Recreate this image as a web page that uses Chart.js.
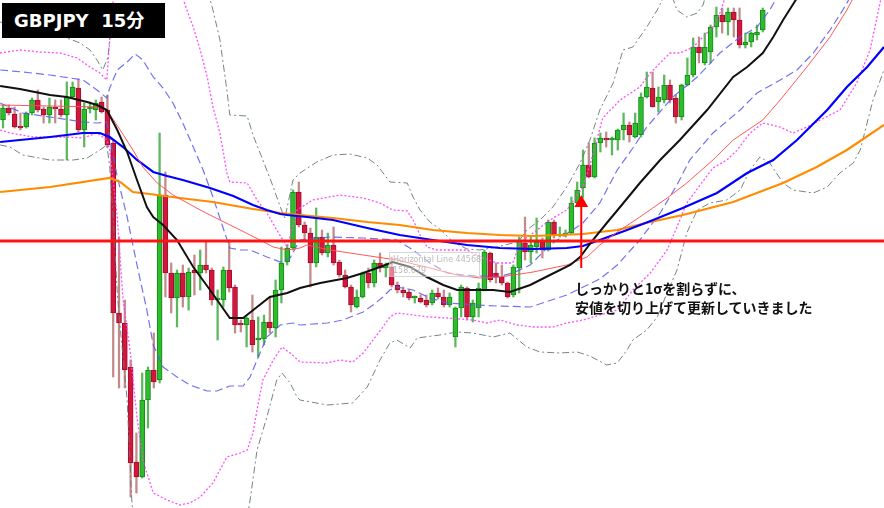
<!DOCTYPE html>
<html>
<head>
<meta charset="utf-8">
<script src="https://cdn.jsdelivr.net/npm/chart.js@4.4.1/dist/chart.umd.min.js"></script>
<style>
  html, body { margin: 0; padding: 0; background: #ffffff; }
  #wrap { position: relative; width: 884px; height: 508px; overflow: hidden; }
  canvas { position: absolute; left: 0; top: 0; }
  #title { position: absolute; left: 2px; top: 3px; width: 163px; height: 35px; background: #000; color: #fff;
           font: bold 18px "DejaVu Sans", "Noto Sans CJK JP", sans-serif; line-height: 35px; padding-left: 12px;
           box-sizing: border-box; white-space: pre; }
  #note { position: absolute; left: 575px; top: 279px; color: #111;
          font: bold 14px "Noto Sans CJK JP", sans-serif; line-height: 19px; white-space: pre; }
  #ghost { position: absolute; left: 389px; top: 252px; width: 91px; height: 25px; box-sizing: border-box;
           border: 1px solid rgba(190,190,190,0.6); background: rgba(255,255,255,0.45); white-space: nowrap;
           color: rgba(175,175,175,0.85); font: 8px "DejaVu Sans", sans-serif; line-height: 11px; padding: 1px 3px; }
</style>
</head>
<body>
<div id="wrap">
  <canvas id="c" width="884" height="508"></canvas>
  <div id="ghost">Horizontal Line 44568<br>158.679</div>
  <div id="title">GBPJPY  15分</div>
  <div id="note">しっかりと1σを割らずに、
安値を切り上げて更新していきました</div>
</div>
<script>
// ===== Data (GBPJPY 15-minute candles) =====
const openP = [159.89,160.01,159.95,159.83,159.82,159.96,160.09,160.00,159.94,160.02,
160.00,159.94,160.12,160.21,159.79,160.00,159.99,160.07,159.99,159.66,
157.96,157.86,157.42,156.47,156.32,157.09,157.39,157.29,159.14,158.36,
158.11,158.36,158.12,158.39,158.36,158.44,158.39,158.09,158.09,158.39,
158.22,157.86,157.84,157.89,157.69,157.70,157.87,157.81,158.19,158.47,
158.61,159.17,158.84,158.76,158.46,158.72,158.56,158.64,158.47,158.34,
158.22,158.02,158.12,158.36,158.26,158.46,158.41,158.42,158.24,158.19,
158.17,158.11,158.11,158.09,158.06,158.16,158.12,158.04,157.72,158.01,
158.21,157.92,158.01,158.19,158.56,158.36,158.32,158.26,158.14,158.41,
158.66,158.57,158.62,158.67,158.59,158.87,158.73,158.74,158.76,159.06,
159.21,159.44,159.32,159.66,159.71,159.69,159.69,159.79,159.84,159.72,
159.74,160.12,160.21,160.07,160.09,160.24,160.11,159.92,160.24,160.34,
160.62,160.46,160.57,160.82,160.94,160.87,160.97,160.89,160.64,160.67,
160.74,160.79];
const highP = [160.04,160.04,160.02,159.96,159.97,160.11,160.19,160.02,160.11,160.09,
160.09,160.27,160.27,160.30,160.06,160.07,160.09,160.12,160.14,159.69,
158.72,158.09,157.49,156.76,157.36,157.42,157.76,159.76,159.37,158.46,
158.39,158.44,158.41,158.54,158.59,158.67,158.41,158.19,158.42,158.69,
158.24,157.89,157.92,158.14,157.92,157.94,158.12,158.29,158.62,158.64,
159.19,159.27,158.87,158.81,159.01,158.79,158.76,158.82,158.49,158.39,
158.24,158.19,158.37,158.41,158.49,158.56,158.46,158.52,158.27,158.22,
158.19,158.13,158.14,158.14,158.19,158.21,158.19,158.16,158.02,158.24,
158.22,158.09,158.26,158.59,158.57,158.46,158.44,158.27,158.44,158.72,
158.92,158.72,158.91,158.71,158.89,158.89,158.82,158.79,159.12,159.27,
159.59,159.66,159.71,159.76,159.77,159.72,159.80,159.96,159.87,159.96,
160.16,160.37,160.37,160.22,160.34,160.29,160.14,160.25,160.51,160.71,
160.72,160.76,160.84,161.02,161.01,161.01,161.01,161.01,160.76,160.77,
160.84,161.01];
const lowP = [159.81,159.94,159.81,159.79,159.81,159.94,159.97,159.86,159.86,159.86,
159.92,159.49,160.11,159.77,159.62,159.96,159.89,159.96,159.62,157.32,
157.21,157.21,156.12,156.16,156.31,156.81,157.21,157.26,158.12,157.96,
157.82,158.02,157.99,158.14,158.19,158.36,158.04,157.69,158.02,158.17,
157.76,157.77,157.62,157.57,157.52,157.64,157.76,157.72,158.06,158.44,
158.59,158.82,158.69,158.22,158.42,158.54,158.52,158.44,158.32,158.21,
157.97,158.01,158.11,158.21,158.22,158.37,158.32,158.22,158.16,158.12,
158.09,158.06,158.06,158.02,158.04,158.10,158.02,158.02,157.62,157.92,
157.89,157.87,157.92,158.18,158.27,158.26,158.24,158.11,158.12,158.16,
158.49,158.46,158.56,158.51,158.58,158.71,158.72,158.72,158.75,159.05,
159.11,159.31,159.31,159.57,159.62,159.54,159.59,159.69,159.67,159.71,
159.72,160.11,160.02,159.97,160.06,160.06,159.86,159.89,160.23,160.32,
160.46,160.44,160.46,160.72,160.76,160.74,160.72,160.61,160.61,160.62,
160.69,160.77];
const closeP = [160.01,159.96,159.82,159.81,159.96,160.09,159.99,159.94,160.02,160.00,
159.94,160.12,160.22,159.79,160.00,160.02,160.06,159.97,159.64,157.96,
157.86,157.39,156.46,156.32,157.09,157.39,157.27,159.14,158.36,158.11,
158.36,158.12,158.37,158.36,158.44,158.39,158.09,158.11,158.39,158.21,
157.84,157.84,157.91,157.64,157.71,157.87,157.81,158.19,158.46,158.61,
159.17,158.84,158.76,158.46,158.72,158.56,158.64,158.46,158.34,158.22,
158.04,158.12,158.36,158.26,158.46,158.41,158.44,158.24,158.19,158.16,
158.11,158.12,158.07,158.04,158.16,158.12,158.04,158.12,158.01,158.22,
157.92,158.06,158.21,158.57,158.29,158.32,158.26,158.12,158.42,158.69,
158.57,158.64,158.67,158.59,158.87,158.74,158.75,158.76,159.06,159.19,
159.44,159.32,159.66,159.71,159.69,159.70,159.79,159.84,159.74,159.86,
160.12,160.22,160.02,160.12,160.24,160.09,159.92,160.24,160.34,160.62,
160.56,160.62,160.82,160.94,160.87,160.97,160.89,160.64,160.67,160.76,
160.77,160.99];

// Indicator lines: [bar index, price]
const midLine = [[-0.5,160.23],[2.9,160.20],[8.1,160.14],[11.0,160.12],[14.5,160.07],[16.2,160.04],[17.9,159.99],
[19.7,159.79],[21.4,159.57],[23.1,159.29],[24.8,159.02],[25.9,158.92],[27.6,158.84],[30.0,158.69],[32.8,158.42],
[35.7,158.19],[39.1,157.91],[41.4,157.91],[43.8,158.02],[46.0,158.12],[49.0,158.16],[51.2,158.21],[54.7,158.26],
[59.3,158.31],[62.1,158.36],[65.0,158.42],[67.2,158.47],[70.2,158.42],[73.1,158.32],[75.9,158.24],[78.3,158.19],
[81.0,158.19],[84.5,158.19],[87.4,158.17],[90.9,158.24],[94.3,158.34],[97.8,158.44],[99.5,158.52],[101.7,158.69],
[104.1,158.86],[106.4,159.02],[109.8,159.26],[113.3,159.49],[116.7,159.69],[121.4,159.99],[125.9,160.32],
[128.3,160.42],[131.0,160.56],[132.8,160.72],[134.5,160.89],[136.9,161.11]];
const emaLine = [[-0.5,160.04],[8.1,160.03],[16.7,160.02],[17.9,159.99],[20.2,159.79],[22.4,159.59],[24.1,159.42],
[26.6,159.26],[29.3,159.14],[34.0,158.99],[37.4,158.89],[40.9,158.79],[44.3,158.69],[46.6,158.62],[49.0,158.59],
[51.2,158.61],[52.4,158.64],[56.4,158.59],[62.1,158.54],[67.9,158.49],[73.6,158.41],[78.3,158.34],[82.2,158.31],
[85.7,158.32],[91.4,158.37],[97.2,158.44],[100.7,158.52],[102.9,158.64],[105.9,158.77],[109.8,158.92],
[114.5,159.11],[117.9,159.26],[122.4,159.49],[125.9,159.69],[131.0,159.89],[134.0,160.09],[138.6,160.42],
[142.6,160.72],[145.5,160.99],[146.6,161.11]];
const ma75Line = [[-0.5,159.67],[2.9,159.69],[8.1,159.72],[13.8,159.76],[16.7,159.76],[18.4,159.72],[20.7,159.62],
[23.1,159.49],[25.9,159.37],[28.3,159.33],[31.0,159.29],[35.7,159.21],[39.7,159.13],[43.1,159.04],[45.5,158.99],
[47.8,158.95],[49.0,158.94],[52.4,158.92],[56.9,158.89],[62.8,158.81],[68.4,158.74],[74.1,158.69],[80.0,158.64],
[85.7,158.61],[91.4,158.60],[97.2,158.61],[100.0,158.63],[102.9,158.69],[107.6,158.79],[112.1,158.89],
[117.2,159.01],[123.1,159.16],[128.3,159.36],[132.8,159.49],[136.9,159.69],[142.1,159.99],[145.5,160.22],
[149.0,160.42],[151.9,160.62]];
const ma200Line = [[-0.5,159.17],[8.1,159.22],[18.4,159.31],[20.2,159.27],[22.4,159.17],[25.3,159.15],[30.5,159.11],
[36.2,159.07],[43.1,159.00],[47.8,158.96],[51.2,158.94],[56.9,158.91],[62.8,158.87],[68.4,158.84],[74.1,158.79],
[80.0,158.76],[85.7,158.74],[91.4,158.73],[100.0,158.75],[105.9,158.79],[111.6,158.87],[117.2,158.94],
[125.9,159.07],[134.5,159.26],[140.3,159.42],[145.5,159.59],[151.9,159.84]];
const up1Line = [[-0.5,160.39],[3.4,160.37],[8.1,160.34],[13.8,160.29],[16.2,160.19],[17.9,160.11],[18.4,160.21],
[19.7,160.39],[21.4,160.47],[22.8,160.55],[24.1,160.49],[25.9,160.32],[27.6,160.21],[29.3,160.06],[31.0,159.86],
[32.8,159.62],[34.5,159.39],[36.2,159.12],[37.9,158.82],[39.1,158.61],[40.9,158.59],[42.6,158.59],[45.5,158.52],
[47.8,158.47],[49.5,158.51],[51.2,158.69],[56.4,158.72],[62.1,158.71],[67.9,158.69],[70.7,158.59],[73.6,158.46],
[76.6,158.36],[79.3,158.34],[85.2,158.32],[87.9,158.36],[90.9,158.44],[94.3,158.64],[100.0,158.86],[102.9,159.06],
[105.9,159.39],[108.6,159.61],[111.0,159.82],[115.5,160.12],[119.7,160.32],[123.6,160.56],[127.1,160.72],
[130.0,160.82],[132.2,160.99],[133.4,161.11]];
const dn1Line = [[-0.5,160.06],[3.4,159.96],[8.1,159.92],[13.8,159.87],[16.2,159.86],[17.9,159.87],[19.7,159.32],
[21.4,158.92],[23.1,158.44],[24.8,157.99],[25.9,157.64],[27.6,157.42],[30.0,157.32],[32.2,157.24],[35.2,157.18],
[36.9,157.18],[39.1,157.23],[41.4,157.23],[42.6,157.32],[43.8,157.49],[45.5,157.72],[47.8,157.84],[50.0,157.86],
[51.2,157.84],[55.9,157.86],[58.6,157.89],[62.1,157.97],[63.8,158.04],[65.5,158.12],[66.7,158.19],[67.9,158.22],
[70.7,158.19],[73.6,158.11],[76.6,158.06],[81.7,158.04],[85.2,158.03],[90.9,158.02],[97.2,158.14],[102.9,158.30],
[105.9,158.44],[109.8,158.69],[113.3,158.96],[116.2,159.24],[118.4,159.49],[122.4,159.76],[127.1,159.99],
[130.0,160.16],[134.0,160.29],[136.9,160.39],[139.7,160.56],[142.6,160.79],[144.8,160.99],[146.0,161.11]];
const up2Line = [[-0.5,160.56],[2.9,160.59],[6.4,160.57],[9.8,160.56],[12.8,160.51],[15.0,160.42],[16.7,160.36],
[17.9,160.29],[18.4,160.69],[19.0,161.09],[21.9,161.69],[25.3,161.99],[28.8,161.49],[31.7,160.99],[32.8,160.82],
[34.0,160.59],[35.2,160.32],[36.2,160.02],[37.4,159.76],[38.6,159.36],[39.1,159.27],[42.1,159.26],[43.8,159.09],
[45.5,158.96],[47.2,158.79],[49.0,158.62],[50.7,158.99],[53.4,159.09],[58.1,159.14],[62.1,159.11],[65.0,159.06],
[67.2,158.99],[69.7,158.98],[70.7,158.89],[71.9,158.74],[73.1,158.62],[74.8,158.59],[80.0,158.59],[82.2,158.52],
[85.2,158.46],[87.9,158.46],[89.1,158.66],[91.4,158.76],[94.3,158.89],[97.2,158.99],[100.0,159.22],[101.7,159.54],
[103.4,159.91],[106.4,160.09],[109.8,160.22],[111.6,160.36],[113.3,160.46],[115.0,160.56],[116.7,160.56],
[119.0,160.62],[120.7,160.72],[122.4,160.82],[123.6,160.96],[124.5,161.11]];
const dn2Line = [[-0.5,159.79],[1.2,159.76],[5.2,159.72],[11.0,159.72],[13.8,159.71],[16.2,159.76],[17.9,159.69],
[18.4,159.59],[19.7,158.92],[20.7,158.09],[21.9,157.59],[23.1,156.92],[24.1,156.49],[25.9,156.16],[28.3,156.09],
[30.5,156.04],[32.2,156.06],[34.0,156.12],[36.2,156.26],[38.6,156.52],[40.9,156.56],[42.1,156.59],[43.1,156.76],
[43.8,156.99],[44.8,157.29],[46.6,157.49],[48.1,157.62],[49.5,157.56],[51.2,157.47],[55.9,157.46],[58.1,157.49],
[60.3,157.47],[62.1,157.56],[63.8,157.69],[65.5,157.82],[66.7,157.92],[67.9,157.96],[70.7,157.94],[73.6,157.92],
[76.6,157.91],[81.0,157.89],[83.4,157.86],[85.7,157.89],[88.6,157.84],[91.4,157.82],[94.8,157.82],[97.2,157.86],
[100.0,157.89],[102.9,157.94],[105.9,157.99],[108.6,158.19],[111.6,158.36],[114.5,158.59],[116.2,158.82],
[117.9,159.06],[120.2,159.24],[122.4,159.41],[124.8,159.49],[126.6,159.59],[128.8,159.76],[131.0,159.86],
[134.0,159.82],[136.2,159.76],[138.6,159.82],[140.9,159.89],[144.3,159.99],[147.2,160.26],[149.5,160.59],
[150.7,160.92],[151.4,161.11]];
const up3Line = [[-0.5,160.87],[11.0,160.71],[13.3,160.66],[15.0,160.59],[16.2,160.49],[17.2,160.39],[18.1,160.52],
[19.0,161.09],[23.6,163.09],[30.5,162.59],[34.8,161.29],[36.2,160.99],[37.4,160.69],[38.6,160.19],[39.1,159.94],
[42.1,159.93],[43.1,159.74],[44.8,159.49],[46.6,159.22],[47.8,159.02],[48.6,158.91],[50.0,159.29],[51.2,159.36],
[54.1,159.47],[56.9,159.54],[59.8,159.55],[62.8,159.51],[64.5,159.44],[66.7,159.27],[69.7,159.26],[70.7,159.12],
[71.9,158.99],[73.6,158.87],[75.3,158.80],[77.6,158.67],[80.0,158.60],[82.2,158.59],[85.2,158.62],[87.9,158.66],
[89.1,158.69],[90.3,158.79],[92.6,158.89],[94.8,159.02],[97.2,159.22],[99.5,159.46],[101.2,159.69],[102.9,159.99],
[105.2,160.26],[106.9,160.59],[108.6,160.62],[111.0,160.82],[112.8,160.99],[114.1,161.14],[115.3,161.14],
[116.2,160.99],[117.9,160.92],[119.7,160.96],[120.7,161.04],[121.9,161.29],[137.4,162.59],[151.9,163.59]];
const dn3Line = [[-0.5,159.64],[1.2,159.62],[3.4,159.54],[8.1,159.49],[12.1,159.49],[14.5,159.51],[16.7,159.59],
[17.9,159.64],[18.4,159.42],[19.0,158.92],[19.7,158.16],[20.2,157.82],[21.4,157.09],[22.2,156.09],[23.1,155.49],
[32.2,154.59],[40.9,155.49],[42.6,156.09],[43.8,156.59],[45.5,156.92],[47.2,157.29],[48.1,157.36],[49.5,157.26],
[50.7,157.12],[51.2,157.09],[55.9,157.04],[60.3,157.06],[62.8,157.22],[65.0,157.49],[66.7,157.66],[67.9,157.69],
[70.2,157.61],[71.4,157.71],[75.3,157.74],[78.3,157.77],[81.0,157.76],[84.5,157.72],[87.4,157.76],[90.3,157.62],
[92.6,157.57],[96.0,157.56],[99.0,157.57],[101.2,157.53],[104.1,157.44],[105.9,157.46],[107.6,157.59],
[108.6,157.69],[111.0,157.79],[112.8,157.92],[114.5,158.16],[116.2,158.39],[117.9,158.76],[119.7,158.99],
[121.9,159.06],[124.8,159.09],[127.1,159.19],[128.8,159.39],[130.5,159.52],[132.2,159.46],[134.5,159.26],
[136.2,159.19],[139.7,159.16],[142.1,159.22],[144.3,159.36],[146.6,159.46],[147.8,159.59],[150.0,160.09],
[151.9,160.39]];

const hLineLevel = 158.68;          // horizontal line price
const arrowAt = 99.7;               // arrow bar position
const arrowFrom = 158.41, arrowTo = 159.06;

// ===== Chart =====
const idx = openP.map((_, i) => i);
const isUp = idx.map(i => closeP[i] >= openP[i]);
const toXY = arr => arr.map(p => ({ x: p[0], y: p[1] }));

function lineDs(pts, color, width, dash, order) {
  return { type: 'line', data: toXY(pts), borderColor: color, borderWidth: width, borderDash: dash || [],
           pointRadius: 0, fill: false, tension: 0, order: order };
}

new Chart(document.getElementById('c'), {
  type: 'bar',
  data: {
    datasets: [
      { type: 'bar', data: idx.map(i => ({ x: i, y: [lowP[i], highP[i]] })),
        backgroundColor: idx.map(i => isUp[i] ? '#5cb85c' : '#c48a8a'),
        barThickness: 1.6, grouped: false, order: 20 },
      { type: 'bar', data: idx.map(i => ({ x: i, y: [openP[i], closeP[i]] })),
        backgroundColor: idx.map(i => isUp[i] ? '#2cbc2c' : '#d5163c'),
        borderColor: idx.map(i => isUp[i] ? '#178a17' : '#9e1030'),
        borderWidth: 1, borderSkipped: false, barThickness: 5, minBarLength: 2, grouped: false, order: 19 },
      lineDs(up3Line, 'rgba(100,120,120,0.9)', 1, [7, 3, 2, 3], 9),
      lineDs(dn3Line, 'rgba(100,120,120,0.9)', 1, [7, 3, 2, 3], 9),
      lineDs(up2Line, 'rgba(255,70,255,0.95)', 1.3, [2, 2], 8),
      lineDs(dn2Line, 'rgba(255,70,255,0.95)', 1.3, [2, 2], 8),
      lineDs(up1Line, 'rgba(90,90,235,0.85)', 1.2, [8, 4], 7),
      lineDs(dn1Line, 'rgba(90,90,235,0.85)', 1.2, [8, 4], 7),
      lineDs(ma200Line, '#ff8c00', 2.2, [], 6),
      lineDs(ma75Line, '#0000ff', 2.2, [], 5),
      lineDs(emaLine, 'rgba(255,80,80,0.95)', 1, [], 4),
      lineDs(midLine, '#111111', 2, [], 3),
      { type: 'line', data: [{ x: -2, y: hLineLevel }, { x: 154, y: hLineLevel }],
        borderColor: 'rgba(255,20,20,1)', borderWidth: 3, pointRadius: 0, order: 2 },
      { type: 'line', data: [{ x: arrowAt, y: arrowFrom }, { x: arrowAt, y: arrowTo }],
        borderColor: '#ff0000', borderWidth: 2, pointStyle: 'triangle', pointRadius: [0, 6],
        pointBackgroundColor: '#ff0000', pointBorderColor: '#ff0000', order: 1, clip: false }
    ]
  },
  options: {
    responsive: false,
    animation: false,
    devicePixelRatio: 1,
    layout: { padding: 0, autoPadding: false },
    plugins: { legend: { display: false }, tooltip: { enabled: false }, title: { display: false } },
    scales: {
      x: { type: 'linear', display: false, min: -0.52, max: 151.9, offset: false },
      y: { type: 'linear', display: false, min: 156.01, max: 161.09 }
    }
  }
});
</script>
</body>
</html>
